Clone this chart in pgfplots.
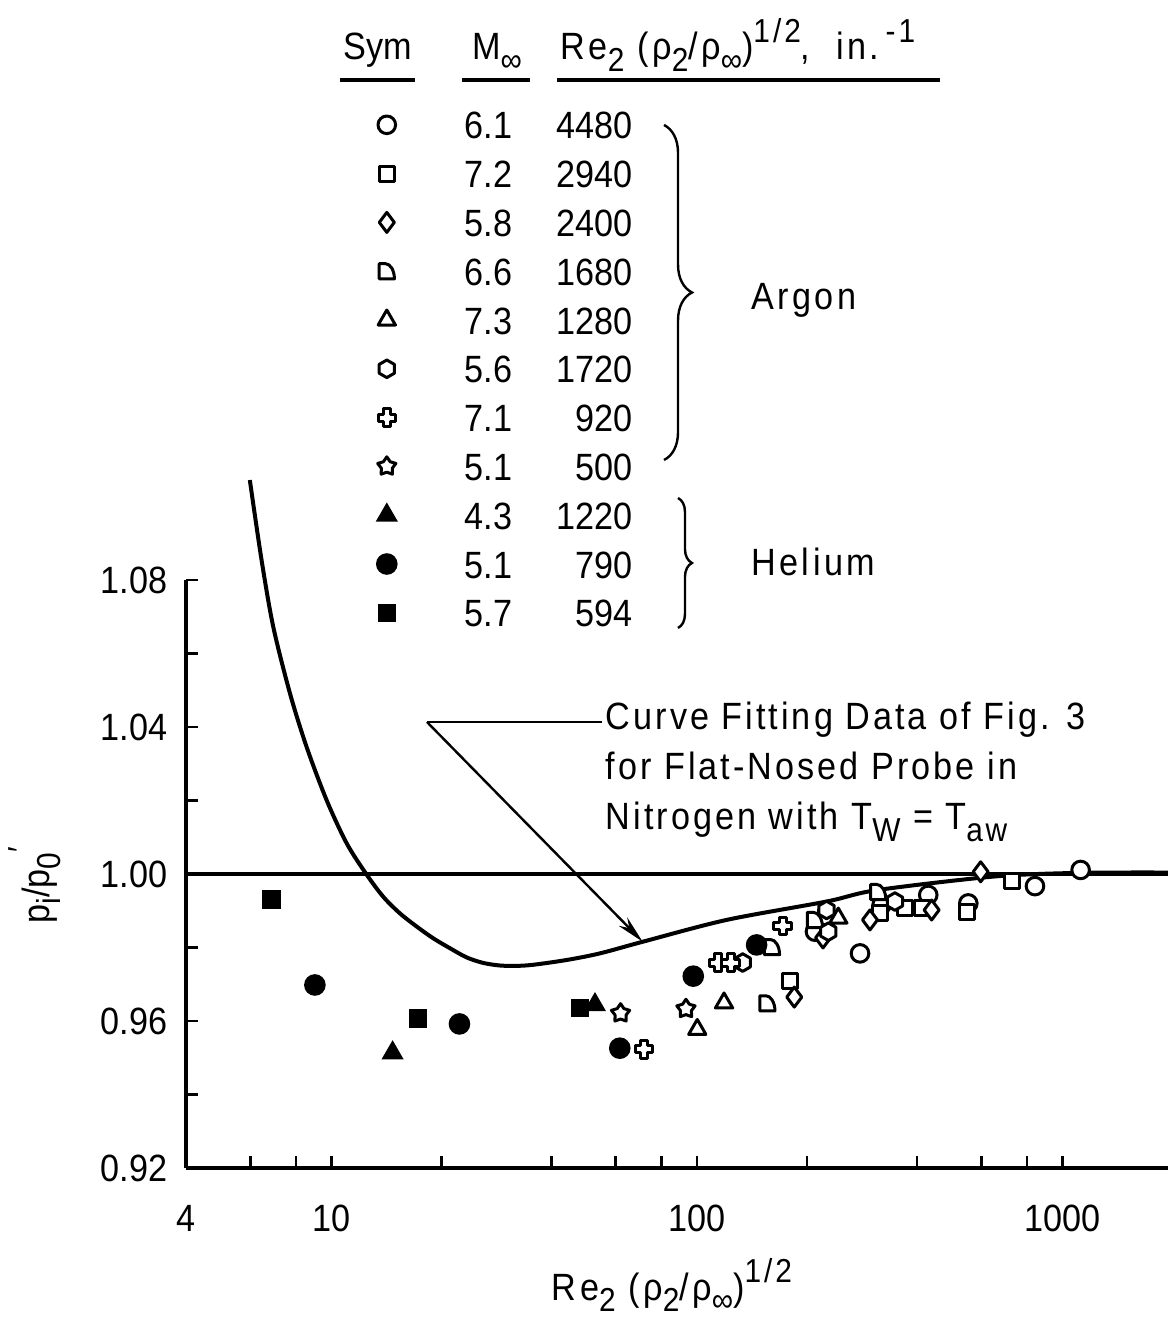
\documentclass[border=0pt]{standalone}
\usepackage{fontspec}
\setmainfont{Liberation Sans}[FakeStretch=0.9]
\usepackage{pgfplots}
\pgfplotsset{compat=1.18}
\usetikzlibrary{decorations.pathreplacing,arrows.meta,plotmarks}

\newcommand\sbs[1]{\raisebox{-0.3em}{\fontsize{8.3}{9}\selectfont #1}}
\newcommand\sps[1]{\raisebox{0.45em}{\fontsize{8.3}{9}\selectfont #1}}
\newcommand\lgr[2]{\makebox[42pt]{#1\hfill#2}}

\pgfdeclareplotmark{dshape}{%
 \pgfpathmoveto{\pgfqpoint{-\pgfplotmarksize}{-\pgfplotmarksize}}%
 \pgfpathlineto{\pgfqpoint{-\pgfplotmarksize}{\pgfplotmarksize}}%
 \pgfpathlineto{\pgfqpoint{-0.2\pgfplotmarksize}{\pgfplotmarksize}}%
 \pgfpatharc{90}{0}{1.2\pgfplotmarksize and 2\pgfplotmarksize}%
 \pgfpathclose\pgfusepathqfillstroke}
\pgfdeclareplotmark{hexa}{%
 \pgfpathmoveto{\pgfqpoint{0pt}{\pgfplotmarksize}}%
 \pgfpathlineto{\pgfqpoint{-0.866\pgfplotmarksize}{0.5\pgfplotmarksize}}%
 \pgfpathlineto{\pgfqpoint{-0.866\pgfplotmarksize}{-0.5\pgfplotmarksize}}%
 \pgfpathlineto{\pgfqpoint{0pt}{-\pgfplotmarksize}}%
 \pgfpathlineto{\pgfqpoint{0.866\pgfplotmarksize}{-0.5\pgfplotmarksize}}%
 \pgfpathlineto{\pgfqpoint{0.866\pgfplotmarksize}{0.5\pgfplotmarksize}}%
 \pgfpathclose\pgfusepathqfillstroke}
\pgfdeclareplotmark{pluso}{%
 \pgfpathmoveto{\pgfqpoint{0.4\pgfplotmarksize}{\pgfplotmarksize}}%
 \pgfpathlineto{\pgfqpoint{0.4\pgfplotmarksize}{0.4\pgfplotmarksize}}%
 \pgfpathlineto{\pgfqpoint{\pgfplotmarksize}{0.4\pgfplotmarksize}}%
 \pgfpathlineto{\pgfqpoint{\pgfplotmarksize}{-0.4\pgfplotmarksize}}%
 \pgfpathlineto{\pgfqpoint{0.4\pgfplotmarksize}{-0.4\pgfplotmarksize}}%
 \pgfpathlineto{\pgfqpoint{0.4\pgfplotmarksize}{-\pgfplotmarksize}}%
 \pgfpathlineto{\pgfqpoint{-0.4\pgfplotmarksize}{-\pgfplotmarksize}}%
 \pgfpathlineto{\pgfqpoint{-0.4\pgfplotmarksize}{-0.4\pgfplotmarksize}}%
 \pgfpathlineto{\pgfqpoint{-\pgfplotmarksize}{-0.4\pgfplotmarksize}}%
 \pgfpathlineto{\pgfqpoint{-\pgfplotmarksize}{0.4\pgfplotmarksize}}%
 \pgfpathlineto{\pgfqpoint{-0.4\pgfplotmarksize}{0.4\pgfplotmarksize}}%
 \pgfpathlineto{\pgfqpoint{-0.4\pgfplotmarksize}{\pgfplotmarksize}}%
 \pgfpathclose\pgfusepathqfillstroke}
\pgfdeclareplotmark{staro}{%
 \pgfpathmoveto{\pgfqpoint{0pt}{\pgfplotmarksize}}%
 \pgfpathlineto{\pgfqpoint{-0.3527\pgfplotmarksize}{0.4854\pgfplotmarksize}}%
 \pgfpathlineto{\pgfqpoint{-0.9511\pgfplotmarksize}{0.3090\pgfplotmarksize}}%
 \pgfpathlineto{\pgfqpoint{-0.5707\pgfplotmarksize}{-0.1854\pgfplotmarksize}}%
 \pgfpathlineto{\pgfqpoint{-0.5878\pgfplotmarksize}{-0.8090\pgfplotmarksize}}%
 \pgfpathlineto{\pgfqpoint{0pt}{-0.6\pgfplotmarksize}}%
 \pgfpathlineto{\pgfqpoint{0.5878\pgfplotmarksize}{-0.8090\pgfplotmarksize}}%
 \pgfpathlineto{\pgfqpoint{0.5707\pgfplotmarksize}{-0.1854\pgfplotmarksize}}%
 \pgfpathlineto{\pgfqpoint{0.9511\pgfplotmarksize}{0.3090\pgfplotmarksize}}%
 \pgfpathlineto{\pgfqpoint{0.3527\pgfplotmarksize}{0.4854\pgfplotmarksize}}%
 \pgfpathclose\pgfusepathqfillstroke}

\pgfplotsset{
 openm/.style={only marks, mark size=2.2pt, mark options={fill=white, draw=black, line width=0.75pt, solid, line join=round}},
 fillm/.style={only marks, mark size=2.5pt, mark options={fill=black, draw=black, solid}},
}

\begin{document}
\fontsize{9.5}{12}\selectfont
\begin{tikzpicture}
\begin{axis}[
  scale only axis, width=245.5pt, height=147pt,
  xmode=log, log basis x=10,
  xmin=4, xmax=1944, ymin=0.92, ymax=1.08,
  axis x line=bottom, axis y line=left,
  axis line style={line width=1.1pt,-},
  clip=false,
  xtick={4,10,100,1000}, xticklabels={4,10,100,1000},
  minor xtick={6,8,20,40,60,80,200,400,600,800},
  ytick={0.92,0.96,1.00,1.04,1.08}, yticklabels={0.92,0.96,1.00,1.04,1.08},
  minor ytick={0.94,0.98,1.02,1.06},
  tick align=inside,
  major tick length=3pt, minor tick length=3pt,
  tick style={line width=0.7pt, black},
  xticklabel style={yshift=-6pt},
  yticklabel style={xshift=-1.3pt},
  xlabel={Re\sbs{2} (ρ\sbs{2}/ρ\sbs{∞})\sps{1/2}},
  ylabel={p\sbs{i}/p\sbs{0}\rlap{\sps{′}}},
  xlabel style={at={(rel axis cs:0.4949,-0.2245)}, anchor=base, inner sep=0pt, font=\addfontfeature{LetterSpace=9}},
  ylabel style={at={(rel axis cs:-0.1538,0.4762)}, anchor=center, inner sep=0pt},
  legend cell align=left,
  legend image code/.code={\draw[#1] plot coordinates {(0pt,0pt)};},
  legend style={at={(0.1935,1.7993)}, anchor=north west, draw=none, fill=none,
    inner sep=0pt, row sep=5.2pt, column sep=17pt,
    nodes={inner sep=0pt, text height=7pt, text depth=0pt}},
]
% reference line and fitted curve
\addplot[forget plot, line width=1.1pt, no marks] coordinates {(4,1.0) (1944,1.0)};
\addplot[forget plot, line width=1pt, no marks, smooth] coordinates {
 (5.98,1.1072) (6.44,1.0854) (6.93,1.0673) (7.70,1.0492) (8.55,1.0346)
 (9.70,1.0201) (11.0,1.0084) (12.45,1.0000) (13.86,0.9938)
 (15.39,0.9893) (17.11,0.9857) (18.99,0.9825) (21.10,0.9798) (23.44,0.9773)
 (26.02,0.9758) (28.91,0.9751) (32.11,0.9750) (35.65,0.9753) (44.01,0.9766)
 (54.28,0.9784) (71.3,0.9816) (120.5,0.9875) (226,0.9925) (310,0.9956)
 (647,0.9993) (1100,1.0003) (1944,1.0004)};

\addplot[openm, mark=*] coordinates {(210.3,0.9843) (320.1,0.9916) (429.3,0.9943) (552.5,0.9920) (841,0.9967) (1121,1.0011) (279.3,0.9784)};
\addlegendentry{\lgr{6.1}{4480}}
\addplot[openm, mark=square*, mark size=1.9pt] coordinates {(225.4,0.9883) (316.7,0.9894) (370.8,0.9907) (411.9,0.9907) (546.9,0.9897) (726.1,0.9982) (179.7,0.9709)};
\addlegendentry{\lgr{7.2}{2940}}
\addplot[openm, mark=diamond*, mark size=2.5pt] coordinates {(221.2,0.9826) (297.4,0.9875) (438.6,0.9902) (597.4,1.0006) (184.6,0.9665)};
\addlegendentry{\lgr{5.8}{2400}}
\addplot[openm, mark=dshape, mark size=1.9pt] coordinates {(210.3,0.9875) (313.3,0.9951) (155.8,0.9648) (160.4,0.9801)};
\addlegendentry{\lgr{6.6}{1680}}
\addplot[openm, mark=triangle*, mark size=2.5pt] coordinates {(243.6,0.9880) (100.2,0.9577) (118.6,0.9649)};
\addlegendentry{\lgr{7.3}{1280}}
\addplot[openm, mark=hexa] coordinates {(226.3,0.9902) (228.7,0.9843) (348,0.9925) (133.4,0.9759)};
\addlegendentry{\lgr{5.6}{1720}}
\addplot[openm, mark=pluso] coordinates {(114.4,0.9759) (123.6,0.9759) (171.6,0.9859) (71.7,0.9523)};
\addlegendentry{\lgr{7.1}{920}}
\addplot[openm, mark=staro, mark size=2.4pt] coordinates {(61.8,0.9621) (93.3,0.9633)};
\addlegendentry{\lgr{5.1}{500}}
\addplot[fillm, mark=triangle*, mark size=2.8pt] coordinates {(14.7,0.9513) (52.6,0.9644)};
\addlegendentry{\lgr{4.3}{1220}}
\addplot[fillm, mark=*] coordinates {(9.01,0.9698) (22.4,0.9592) (61.5,0.9526) (97.7,0.9722) (145.6,0.9807)};
\addlegendentry{\lgr{5.1}{790}}
\addplot[fillm, mark=square*, mark size=2.1pt] coordinates {(6.86,0.9931) (17.28,0.9607) (47.9,0.9635)};
\addlegendentry{\lgr{5.7}{594}}

% header of the symbol table
\node[anchor=base] at (rel axis cs:0.1955,1.8844) {Sym};
\node[anchor=base] at (rel axis cs:0.3167,1.8844) {M\sbs{∞}};
\node[anchor=base west, inner sep=0pt, font=\addfontfeature{LetterSpace=9}] at (rel axis cs:0.3809,1.8844) {Re\sbs{2} (ρ\sbs{2}/ρ\sbs{∞})\sps{1/2},\ \ in.\,\sps{-1}};
\draw[line width=0.8pt] (rel axis cs:0.1568,1.8503) -- (rel axis cs:0.2332,1.8503);
\draw[line width=0.8pt] (rel axis cs:0.2811,1.8503) -- (rel axis cs:0.3503,1.8503);
\draw[line width=0.8pt] (rel axis cs:0.3778,1.8503) -- (rel axis cs:0.7678,1.8503);

% braces
\draw[decorate, decoration={brace, amplitude=7pt}, line width=0.6pt] (rel axis cs:0.4868,1.7738) -- (rel axis cs:0.4868,1.2041);
\draw[decorate, decoration={brace, amplitude=3.5pt}, line width=0.6pt] (rel axis cs:0.5010,1.1395) -- (rel axis cs:0.5010,0.9184);
\node[anchor=base west, inner sep=0pt, font=\addfontfeature{LetterSpace=9}] at (rel axis cs:0.5750,1.4592) {Argon};
\node[anchor=base west, inner sep=0pt, font=\addfontfeature{LetterSpace=9}] at (rel axis cs:0.5750,1.0068) {Helium};

% annotation
\draw[line width=0.6pt] (rel axis cs:0.4236,0.7585) -- (rel axis cs:0.2454,0.7585);
\draw[line width=0.6pt, -{Stealth[length=7pt,width=3pt]}] (rel axis cs:0.2454,0.7585) -- (axis cs:71,0.9816);
\node[anchor=west, align=left, inner sep=0pt, font=\fontsize{9.5}{12.5}\selectfont\addfontfeature{LetterSpace=8}] at (rel axis cs:0.4267,0.6735)
 {Curve Fitting Data of Fig. 3\\for Flat-Nosed Probe in\\Nitrogen with T\sbs{W} = T\sbs{aw}};

% page frame matching the reference proportions
\coordinate (bbSW) at (rel axis cs:-0.18941,-0.25680);
\coordinate (bbNE) at (rel axis cs:1.0,1.98639);
\end{axis}
\pgfresetboundingbox
\useasboundingbox (bbSW) rectangle (bbNE);
\end{tikzpicture}
\end{document}
